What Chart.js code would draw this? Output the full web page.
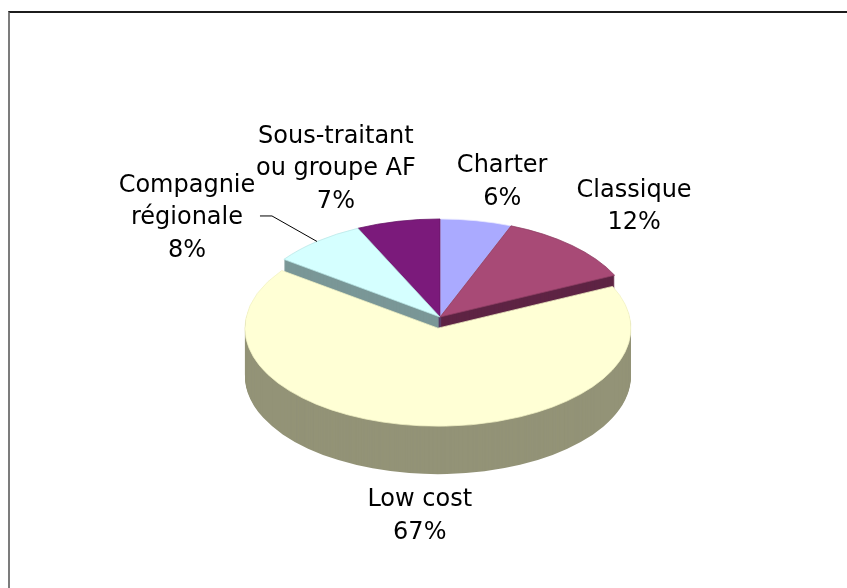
<!DOCTYPE html>
<html>
<head>
<meta charset="utf-8">
<script src="https://cdn.jsdelivr.net/npm/chart.js@4"></script>
<style>
  html, body { margin: 0; padding: 0; background: #fff; overflow: hidden; }
  #frame { position: absolute; left: 8px; top: 11px; width: 845px; height: 590px;
           border-top: 2px solid #1c1c1c; border-left: 2px solid #7c7c7c; }
  canvas { position: absolute; left: 0; top: 0; }
</style>
</head>
<body>
<div id="frame"></div>
<canvas id="carriers" width="847" height="588"></canvas>
<script>
// categories (multi-line labels) and their shares in %
const categories = [['Charter'], ['Classique'], ['Low cost'], ['Compagnie', 'régionale'], ['Sous-traitant', 'ou groupe AF']];
const shares = [6, 12, 67, 8, 7];

// look of the 3D disc
const topColors  = ['#aaaaff', '#a84a76', '#ffffd5', '#d5ffff', '#7b1a7b'];
const sideColors = ['#5c5c99', '#5e2444', '#939377', '#7a9797', '#440044'];
const edgeColors = ['#e8e8ff', '#8e3e63', '#f2f2c4', '#b8e6e6', '#661566'];
const explode = [0, 0, 22, 0, 0];
const tilt = 0.508;
const depth = 48;

// label placement relative to the rim point of each slice
const labelNudge = [[26, -41], [62, -41], [0, 88], [-130, -26], [-62, -55]];
const leaders = [null, null, null, [[-45, -25.5], [-57, -25.5]], null];
const lineH = 32.5;

function flatten(ctx, cy, dz) {
  ctx.translate(0, cy * (1 - tilt) + dz);
  ctx.scale(1, tilt);
}

function midAngle(arc) {
  return (arc.startAngle + arc.endAngle) / 2;
}

function shift(arc, i) {
  const mid = midAngle(arc);
  return [Math.cos(mid) * explode[i], Math.sin(mid) * explode[i]];
}

function wall(ctx, arc, i) {
  const [ox, oy] = shift(arc, i);
  const x = arc.x + ox, y = arc.y + oy;
  ctx.fillStyle = sideColors[i];
  for (let dz = depth; dz > 0; dz--) {
    ctx.save();
    flatten(ctx, arc.y, dz);
    ctx.beginPath();
    ctx.moveTo(x, y);
    ctx.arc(x, y, arc.outerRadius, arc.startAngle, arc.endAngle);
    ctx.closePath();
    ctx.fill();
    ctx.restore();
  }
}

function face(ctx, arc, i) {
  const [ox, oy] = shift(arc, i);
  ctx.save();
  flatten(ctx, arc.y, 0);
  ctx.translate(ox, oy);
  arc.draw(ctx);
  ctx.restore();
}

const pie3d = {
  id: 'pie3d',
  beforeDatasetsDraw(chart) {
    const ctx = chart.ctx;
    const arcs = chart.getDatasetMeta(0).data;
    // far slices first so nearer walls hide the ones behind them
    const idx = arcs.map((a, i) => i)
      .sort((a, b) => Math.sin(midAngle(arcs[a])) - Math.sin(midAngle(arcs[b])));
    const back = idx.filter(i => !explode[i]);
    const front = idx.filter(i => explode[i]);
    back.forEach(i => wall(ctx, arcs[i], i));
    back.forEach(i => face(ctx, arcs[i], i));
    front.forEach(i => { wall(ctx, arcs[i], i); face(ctx, arcs[i], i); });
    return false;
  },
  afterDraw(chart) {
    const ctx = chart.ctx;
    const arcs = chart.getDatasetMeta(0).data;
    const total = shares.reduce((s, v) => s + v, 0);
    ctx.save();
    ctx.font = '24px "DejaVu Sans", Verdana, sans-serif';
    ctx.fillStyle = '#000';
    ctx.textAlign = 'center';
    ctx.textBaseline = 'alphabetic';
    arcs.forEach((arc, i) => {
      const mid = midAngle(arc);
      const [ox, oy] = shift(arc, i);
      const rx = arc.x + ox + Math.cos(mid) * arc.outerRadius;
      const ry = arc.y + (oy + Math.sin(mid) * arc.outerRadius) * tilt;
      const lines = categories[i].concat(Math.round(shares[i] / total * 100) + '%');
      const cx = rx + labelNudge[i][0], cy = ry + labelNudge[i][1];
      lines.forEach((t, k) => ctx.fillText(t, cx, cy + (k - (lines.length - 1) / 2) * lineH + 8.7));
      if (leaders[i]) {
        ctx.beginPath();
        ctx.moveTo(rx, ry);
        leaders[i].forEach(([dx, dy]) => ctx.lineTo(rx + dx, ry + dy));
        ctx.strokeStyle = '#000';
        ctx.lineWidth = 1;
        ctx.stroke();
      }
    });
    ctx.restore();
  }
};

new Chart(document.getElementById('carriers'), {
  type: 'pie',
  data: {
    labels: categories,
    datasets: [{
      data: shares,
      backgroundColor: topColors,
      borderColor: edgeColors,
      borderWidth: 1,
      radius: 193
    }]
  },
  options: {
    responsive: false,
    animation: false,
    events: [],
    layout: { padding: { left: 33, top: 46 } },
    plugins: {
      legend: { display: false },
      tooltip: { enabled: false }
    }
  },
  plugins: [pie3d]
});
</script>
</body>
</html>
